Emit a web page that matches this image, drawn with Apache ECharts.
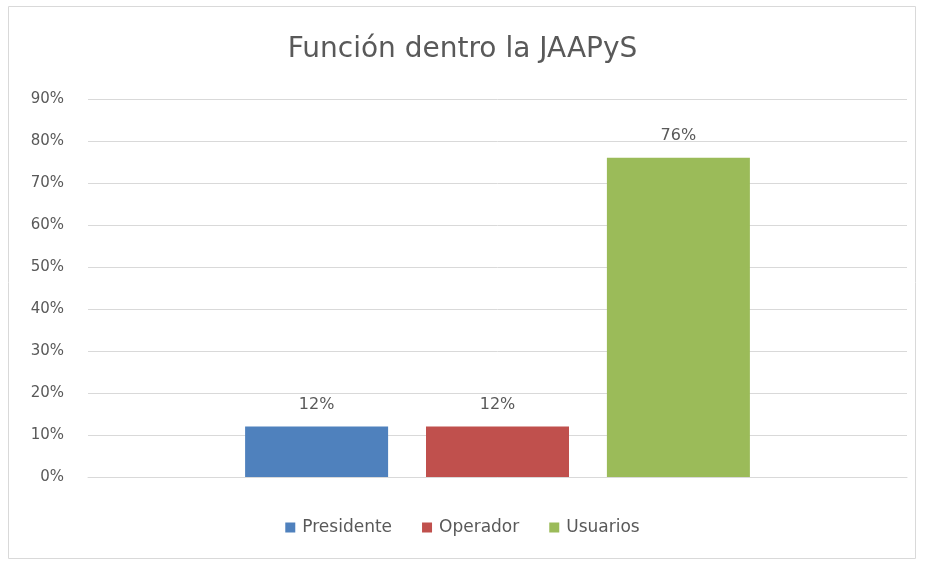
<!DOCTYPE html>
<html><head><meta charset="utf-8">
<script src="https://cdn.jsdelivr.net/npm/echarts@6/dist/echarts.min.js"></script>
<style>html,body{margin:0;padding:0;background:#fff}#c{width:925px;height:561px}</style>
</head><body><div id="c"></div>
<script>
const categories = ['Función'];
const seriesNames = ['Presidente', 'Operador', 'Usuarios'];
const presidente = [0.12];
const operador = [0.12];
const usuarios = [0.76];
const colors = ['#4F81BD', '#C0504D', '#9BBB59'];
const yTicks = [0, 0.1, 0.2, 0.3, 0.4, 0.5, 0.6, 0.7, 0.8, 0.9];

const font = 'DejaVu Sans';
const seriesData = [presidente, operador, usuarios];
const chart = echarts.init(document.getElementById('c'));
chart.setOption({
  animation: false,
  textStyle: { fontFamily: font },
  title: {
    text: 'Función dentro la JAAPyS', left: 'center', top: 31,
    textStyle: { fontFamily: font, fontSize: 28, fontWeight: 'normal', color: '#595959' }
  },
  graphic: [{
    type: 'rect', shape: { x: 8.5, y: 6.5, width: 907, height: 552 },
    style: { fill: 'none', stroke: '#D9D9D9', lineWidth: 1 }, silent: true
  }],
  legend: {
    data: seriesNames, top: 514, left: 'center', itemWidth: 10, itemHeight: 10, itemGap: 30,
    icon: 'rect',
    textStyle: { fontFamily: font, fontSize: 17, color: '#595959', padding: [0, 0, 0, 2] }
  },
  grid: { left: 88, right: 18, top: 99, bottom: 84, containLabel: false },
  xAxis: {
    type: 'category', data: categories,
    axisLine: { show: true, lineStyle: { color: '#D9D9D9' } },
    axisTick: { show: false }, axisLabel: { show: false }
  },
  yAxis: {
    type: 'value', min: 0, max: 0.9, interval: 0.1,
    axisLine: { show: false }, axisTick: { show: false },
    splitLine: { lineStyle: { color: '#D9D9D9', width: 1 } },
    axisLabel: {
      margin: 24, color: '#595959', fontSize: 15, fontFamily: font,
      formatter: v => Math.round(v * 100) + '%'
    }
  },
  series: seriesNames.map((n, i) => ({
    name: n, type: 'bar', data: seriesData[i],
    barWidth: 143, barGap: '26.5%',
    itemStyle: { color: colors[i] },
    label: {
      show: true, position: 'top', distance: 14, color: '#595959', fontSize: 16, fontFamily: font,
      formatter: p => Math.round(p.value * 100) + '%'
    }
  }))
});
</script></body></html>
